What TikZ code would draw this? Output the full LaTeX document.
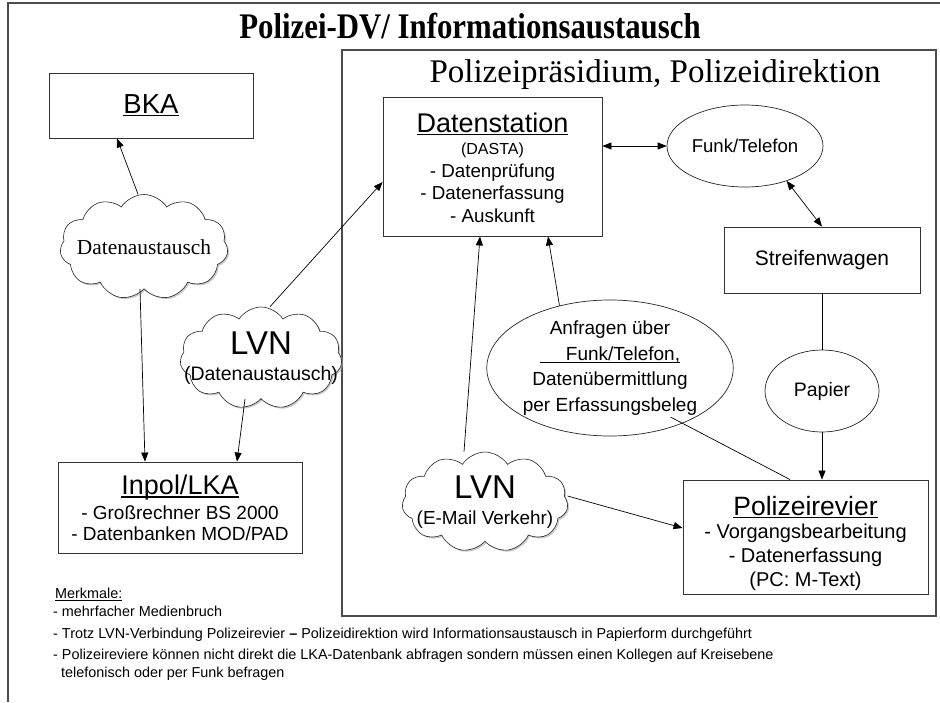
\documentclass[tikz,border=0pt]{standalone}
\usepackage{fontspec}
\setmainfont{Liberation Sans}
\newfontfamily\serifbody{Liberation Serif}
\usetikzlibrary{arrows.meta,shapes.geometric,shapes.symbols,shadows,calc}
\newsavebox{\myulbox}
\newcommand{\myul}[2][1.3pt]{\sbox{\myulbox}{#2}\rlap{\rule[-3pt]{\wd\myulbox}{#1}}\usebox{\myulbox}}
\tikzset{
  frame/.style={draw=black!70, line width=1.2pt},
  boxnode/.style={draw=black!80, line width=0.9pt, rectangle, inner sep=0pt, align=center, fill=white},
  ellnode/.style={draw=black!85, line width=0.7pt, ellipse, inner sep=0pt, align=center},
  cloudnode/.style={draw=black!85, line width=0.6pt, cloud, cloud puffs=11, cloud puff arc=115, cloud ignores aspect, inner sep=0pt, fill=white,
     drop shadow={shadow xshift=1.5pt, shadow yshift=-1.5pt, fill=black!35, opacity=0.6}},
  conn/.style={draw=black, line width=0.7pt},
  arr/.style={conn, -{Triangle[length=9pt,width=7pt]}},
  darr/.style={conn, {Triangle[length=9pt,width=7pt]}-{Triangle[length=9pt,width=7pt]}},
  notetext/.style={anchor=base west, inner sep=0pt, font=\fontsize{14.4}{16}\selectfont}
}
\begin{document}
\begin{tikzpicture}[x=1pt,y=-1pt]
\useasboundingbox (0,0) rectangle (940,702);
\fill[white] (0,0) rectangle (940,702);
% outer frame (top and left lines)
\coordinate (otl) at (8,3);
\coordinate (otr) at (940,3);
\coordinate (obl) at (8,702);
\draw[frame] (otr) -- (otl) -- (obl);
% title
\node[font=\serifbody\bfseries\fontsize{36}{38}\selectfont, inner sep=0pt] (title) at (470,26) {\scalebox{0.856}[1]{Polizei-DV/ Informationsaustausch}};
% Polizeipraesidium frame
\node[draw=black!70, line width=1.2pt, rectangle, minimum width=594pt, minimum height=566pt, inner sep=0pt] (pp) at (639,333) {};
\node[font=\serifbody\fontsize{33}{35}\selectfont, inner sep=0pt] (pptitle) at (655,75) {Polizeipräsidium, Polizeidirektion};
% boxes
\node[boxnode, minimum width=204pt, minimum height=65pt, font=\fontsize{27.5}{29}\selectfont] (bka) at (151,105.5) {\myul[1.6pt]{BKA}};
\node[boxnode, minimum width=244pt, minimum height=91pt, font=\fontsize{19}{21.5}\selectfont] (inpol) at (180,507.5)
  {\rule{0pt}{21pt}{\fontsize{27}{27}\selectfont\myul[1.5pt]{Inpol/LKA}}\\[3pt]- Großrechner BS 2000\\- Datenbanken MOD/PAD};
\node[boxnode, minimum width=219pt, minimum height=139pt, font=\fontsize{18.8}{22.5}\selectfont] (dst) at (492.5,166.5)
  {\rule{0pt}{22pt}{\fontsize{27}{27}\selectfont\myul[1.5pt]{Datenstation}}\\{\fontsize{16}{16}\selectfont (DASTA)}\\- Datenprüfung\\- Datenerfassung\\- Auskunft};
\node[boxnode, minimum width=196pt, minimum height=66pt, font=\fontsize{21}{23}\selectfont] (streifen) at (822,260) {Streifenwagen};
\node[boxnode, minimum width=245pt, minimum height=114pt, font=\fontsize{20}{24}\selectfont] (revier) at (805.5,537)
  {\rule{0pt}{32pt}{\fontsize{26.5}{26.5}\selectfont\myul[1.5pt]{Polizeirevier}}\\[-1pt]- Vorgangsbearbeitung\\- Datenerfassung\\(PC: M-Text)};
% ellipses
\node[ellnode, minimum width=156pt, minimum height=82pt, font=\fontsize{18.6}{20}\selectfont] (funk) at (745,146) {Funk/Telefon};
\node[ellnode, minimum width=114pt, minimum height=82pt, font=\fontsize{19.5}{21}\selectfont] (papier) at (822,391) {Papier};
\node[ellnode, minimum width=226pt, minimum height=136pt, font=\fontsize{19}{25.5}\selectfont] (anfragen) at (610,368)
  {Anfragen über\\\myul[1.2pt]{\hspace{26pt}Funk/Telefon,}\\Datenübermittlung\\per Erfassungsbeleg};
% clouds
\node[cloudnode, minimum width=168pt, minimum height=105pt,
  label={[font=\serifbody\fontsize{21.4}{23}\selectfont, inner sep=0pt]center:Datenaustausch}] (cloudA) at (144,247) {};
\node[cloudnode, minimum width=162pt, minimum height=102pt,
  label={[align=center, font=\fontsize{19.5}{26}\selectfont, inner sep=0pt]center:{{\fontsize{33}{33}\selectfont LVN}\\(Datenaustausch)}}] (lvnA) at (261,358) {};
\node[cloudnode, minimum width=166pt, minimum height=100pt,
  label={[align=center, font=\fontsize{18.9}{26}\selectfont, inner sep=0pt]center:{{\fontsize{33}{33}\selectfont LVN}\\(E-Mail Verkehr)}}] (lvnB) at (485,502) {};
% connectors
\draw[arr] ([xshift=-6pt]cloudA.north) -- ([xshift=-34pt]bka.south);
\draw[arr] ([xshift=-4pt]cloudA.south) -- ([xshift=-35pt]inpol.north);
\draw[arr] ([xshift=9pt]lvnA.north) -- ([yshift=-15.5pt]dst.west);
\draw[arr] ([xshift=-16pt]lvnA.south) -- ([xshift=57pt]inpol.north);
\draw[darr] (funk.west -| dst.east) -- (funk.west);
\draw[darr] (funk.-40) -- (streifen.north);
\draw[conn] (streifen.south) -- (papier.north);
\draw[arr] (papier.south) -- (papier.south |- revier.north);
\draw[arr] (anfragen.129) -- ([xshift=55.5pt]dst.south);
\draw[conn] ($(anfragen.center)!0.87!(anfragen.-39)$) -- ([xshift=-15.5pt]revier.north);
\draw[arr] ([xshift=-21pt]lvnB.north) -- ([xshift=-12.5pt]dst.south);
\draw[arr] ([yshift=6pt]lvnB.east) -- ([yshift=9pt]revier.west);
% notes
\node[notetext] (m0) at (55,598) {\myul[0.9pt]{Merkmale:}};
\node[notetext] (m1) at (53,616) {- mehrfacher Medienbruch};
\node[notetext] (m2) at (53,638) {- Trotz LVN-Verbindung Polizeirevier \textbf{–} Polizeidirektion wird Informationsaustausch in Papierform durchgeführt};
\node[notetext] (m3) at (53,659) {- Polizeireviere können nicht direkt die LKA-Datenbank abfragen sondern müssen einen Kollegen auf Kreisebene};
\node[notetext] (m4) at (53,677) {\ \ telefonisch oder per Funk befragen};
\end{tikzpicture}
\end{document}
